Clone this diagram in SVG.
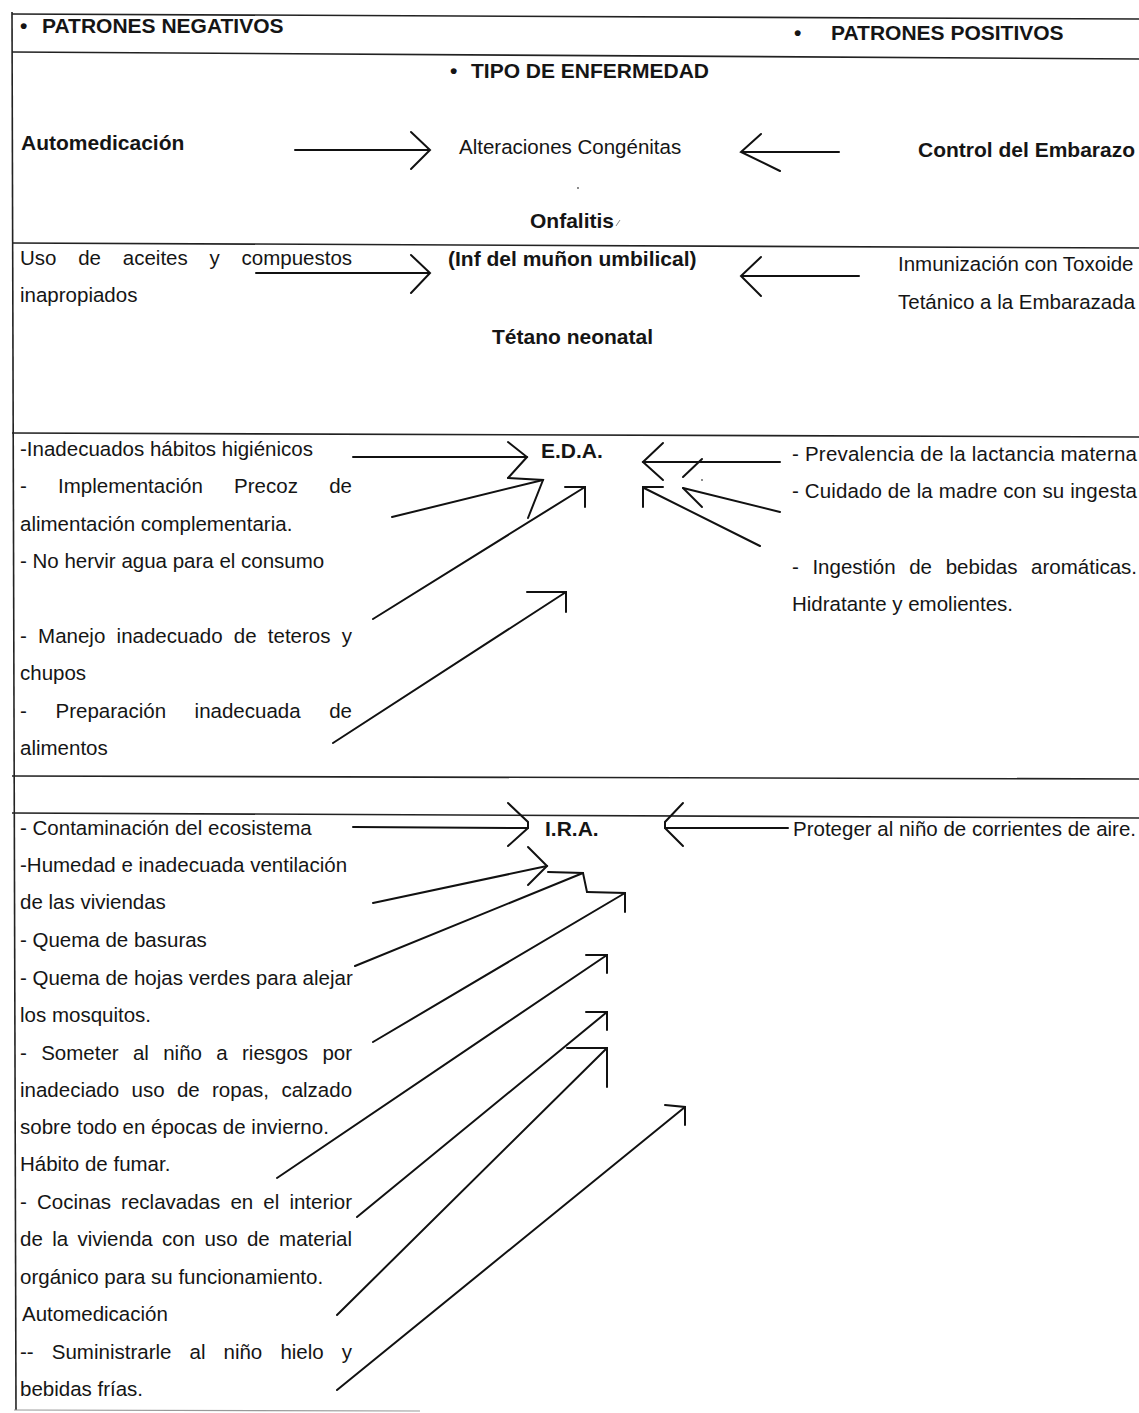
<svg xmlns="http://www.w3.org/2000/svg" width="1139" height="1413" viewBox="0 0 1139 1413">
<style>
.t{font-family:"Liberation Sans",Arial,sans-serif;font-size:20.5px;fill:#151515}
.b{font-family:"Liberation Sans",Arial,sans-serif;font-size:21px;font-weight:bold;fill:#151515}
.grid{stroke:#222;stroke-width:1.6;fill:none}
.c{stroke:#111;stroke-width:2;fill:none;stroke-linecap:round;stroke-linejoin:miter}
</style>
<rect width="1139" height="1413" fill="#ffffff"/>
<g id="table">
<line class="grid" x1="12" y1="14" x2="1139" y2="19"/>
<line class="grid" x1="12" y1="52" x2="1139" y2="59"/>
<line class="grid" x1="12" y1="243" x2="1139" y2="248"/>
<line class="grid" x1="12" y1="433" x2="1139" y2="437"/>
<line class="grid" x1="12" y1="776" x2="1139" y2="779"/>
<line class="grid" x1="12" y1="813" x2="1139" y2="818"/>
<line class="grid" x1="12" y1="12" x2="16" y2="1410"/>
<line x1="14" y1="1410" x2="420" y2="1411" stroke="#999" stroke-width="1.2"/>
</g>
<g id="headers">
<text class="b" y="33"><tspan x="20">•</tspan><tspan x="42">PATRONES NEGATIVOS</tspan></text>
<text class="b" y="40"><tspan x="794">•</tspan><tspan x="831">PATRONES POSITIVOS</tspan></text>
<text class="b" y="78"><tspan x="450">•</tspan><tspan x="471">TIPO DE ENFERMEDAD</tspan></text>
</g>
<g id="row-congenitas">
<text class="b" x="21" y="150">Automedicación</text>
<text class="t" x="459" y="154">Alteraciones Congénitas</text>
<text class="b" x="918" y="157">Control del Embarazo</text>
<circle cx="578" cy="188" r="0.9" fill="#555"/>
</g>
<g id="row-onfalitis">
<text class="b" x="530" y="228">Onfalitis</text>
<line x1="616" y1="226" x2="620" y2="220" stroke="#888" stroke-width="1"/>
<text class="t" y="265"><tspan x="20">Uso</tspan><tspan x="78.2">de</tspan><tspan x="122.8">aceites</tspan><tspan x="209.5">y</tspan><tspan x="241.5">compuestos</tspan></text>
<text class="t" x="20" y="302">inapropiados</text>
<text class="b" x="448" y="266">(Inf del muñon umbilical)</text>
<text class="t" x="898" y="271">Inmunización con Toxoide</text>
<text class="t" x="898" y="309">Tetánico a la Embarazada</text>
<text class="b" x="492" y="344">Tétano neonatal</text>
</g>
<g id="row-eda">
<text class="b" x="541" y="458">E.D.A.</text>
<text class="t" x="20" y="456">-Inadecuados hábitos higiénicos</text>
<text class="t" y="493"><tspan x="20">-</tspan><tspan x="58.1">Implementación</tspan><tspan x="234.1">Precoz</tspan><tspan x="329.2">de</tspan></text>
<text class="t" x="20" y="531">alimentación complementaria.</text>
<text class="t" x="20" y="568">- No hervir agua para el consumo</text>
<text class="t" y="643"><tspan x="20">-</tspan><tspan x="38.1">Manejo</tspan><tspan x="116.6">inadecuado</tspan><tspan x="233.8">de</tspan><tspan x="267.8">teteros</tspan><tspan x="341.8">y</tspan></text>
<text class="t" x="20" y="680">chupos</text>
<text class="t" y="718"><tspan x="20">-</tspan><tspan x="55.5">Preparación</tspan><tspan x="194.6">inadecuada</tspan><tspan x="329.2">de</tspan></text>
<text class="t" x="20" y="755">alimentos</text>
<text class="t" x="792" y="461" textLength="345" lengthAdjust="spacing">- Prevalencia de la lactancia materna</text>
<text class="t" x="792" y="498" textLength="345" lengthAdjust="spacing">- Cuidado de la madre con su ingesta</text>
<text class="t" y="574"><tspan x="792">-</tspan><tspan x="812.4">Ingestión</tspan><tspan x="909.2">de</tspan><tspan x="945.7">bebidas</tspan><tspan x="1031.1">aromáticas.</tspan></text>
<text class="t" x="792" y="611">Hidratante y emolientes.</text>
<circle cx="702" cy="480" r="0.9" fill="#555"/>
</g>
<g id="row-ira">
<text class="b" x="545" y="836">I.R.A.</text>
<text class="t" x="20" y="835">- Contaminación del ecosistema</text>
<text class="t" x="20" y="872">-Humedad e inadecuada ventilación</text>
<text class="t" x="20" y="909">de las viviendas</text>
<text class="t" x="20" y="947">- Quema de basuras</text>
<text class="t" x="20" y="985">- Quema de hojas verdes para alejar</text>
<text class="t" x="20" y="1022">los mosquitos.</text>
<text class="t" y="1060"><tspan x="20">-</tspan><tspan x="41.2">Someter</tspan><tspan x="132.9">al</tspan><tspan x="163.2">niño</tspan><tspan x="216.3">a</tspan><tspan x="242">riesgos</tspan><tspan x="322.4">por</tspan></text>
<text class="t" y="1097"><tspan x="20">inadeciado</tspan><tspan x="131.5">uso</tspan><tspan x="176.9">de</tspan><tspan x="212">ropas,</tspan><tspan x="281.4">calzado</tspan></text>
<text class="t" x="20" y="1134">sobre todo en épocas de invierno.</text>
<text class="t" x="20" y="1171">Hábito de fumar.</text>
<text class="t" y="1209"><tspan x="20">-</tspan><tspan x="37">Cocinas</tspan><tspan x="121.1">reclavadas</tspan><tspan x="230.4">en</tspan><tspan x="263.3">el</tspan><tspan x="289.4">interior</tspan></text>
<text class="t" y="1246"><tspan x="20">de</tspan><tspan x="52.2">la</tspan><tspan x="77.5">vivienda</tspan><tspan x="162.1">con</tspan><tspan x="204.5">uso</tspan><tspan x="246.9">de</tspan><tspan x="279.1">material</tspan></text>
<text class="t" x="20" y="1284">orgánico para su funcionamiento.</text>
<text class="t" x="22" y="1321">Automedicación</text>
<text class="t" y="1359"><tspan x="20">--</tspan><tspan x="51.8">Suministrarle</tspan><tspan x="189.5">al</tspan><tspan x="223.5">niño</tspan><tspan x="280.4">hielo</tspan><tspan x="341.8">y</tspan></text>
<text class="t" x="20" y="1396">bebidas frías.</text>
<text class="t" x="793" y="836">Proteger al niño de corrientes de aire.</text>
</g>
<g id="connectors">
<line class="c" x1="295" y1="150" x2="429" y2="150"/>
<polyline class="c" points="411,132 430,150 411,169"/>
<line class="c" x1="742" y1="152" x2="839" y2="152"/>
<polyline class="c" points="761,134 741,152 780,171"/>
<line class="c" x1="256" y1="273" x2="429" y2="273"/>
<polyline class="c" points="411,255 430,273 411,293"/>
<line class="c" x1="742" y1="276" x2="859" y2="276"/>
<polyline class="c" points="761,257 741,276 761,296"/>

<line class="c" x1="353" y1="457" x2="527" y2="457"/>
<polyline class="c" points="508,442 527,457 508,478"/>
<line class="c" x1="392" y1="517" x2="543" y2="480"/>
<polyline class="c" points="508,478 543,480 528,518"/>
<line class="c" x1="373" y1="619" x2="585" y2="487"/>
<polyline class="c" points="565,487 585,487 585,507"/>
<line class="c" x1="333" y1="743" x2="566" y2="592"/>
<polyline class="c" points="527,592 566,592 566,612"/>

<line class="c" x1="780" y1="462" x2="643" y2="462"/>
<polyline class="c" points="663,443 643,462 663,480"/>
<line class="c" x1="683" y1="477" x2="702" y2="459"/>
<line class="c" x1="780" y1="512" x2="683" y2="488"/>
<line class="c" x1="683" y1="488" x2="702" y2="507"/>
<line class="c" x1="760" y1="546" x2="644" y2="488"/>
<polyline class="c" points="663,487 643,487 643,507"/>

<line class="c" x1="353" y1="827" x2="528" y2="828"/>
<polyline class="c" points="508,803 528,822 528,828 508,846"/>
<line class="c" x1="788" y1="828" x2="665" y2="828"/>
<polyline class="c" points="683,803 665,822 665,828 683,846"/>
<line class="c" x1="373" y1="903" x2="547" y2="866"/>
<polyline class="c" points="528,847 547,866 528,885"/>
<line class="c" x1="355" y1="966" x2="583" y2="873"/>
<polyline class="c" points="548,872 583,873 587,892"/>
<line class="c" x1="373" y1="1042" x2="625" y2="893"/>
<polyline class="c" points="587,892 625,893 625,912"/>
<line class="c" x1="277" y1="1178" x2="607" y2="955"/>
<polyline class="c" points="586,955 607,955 607,973"/>
<line class="c" x1="357" y1="1217" x2="607" y2="1012"/>
<polyline class="c" points="586,1012 607,1012 607,1030"/>
<line class="c" x1="337" y1="1315" x2="607" y2="1048"/>
<polyline class="c" points="567,1048 607,1048 607,1087"/>
<line class="c" x1="337" y1="1390" x2="685" y2="1107"/>
<polyline class="c" points="665,1105 685,1107 685,1125"/>
</g>
</svg>
